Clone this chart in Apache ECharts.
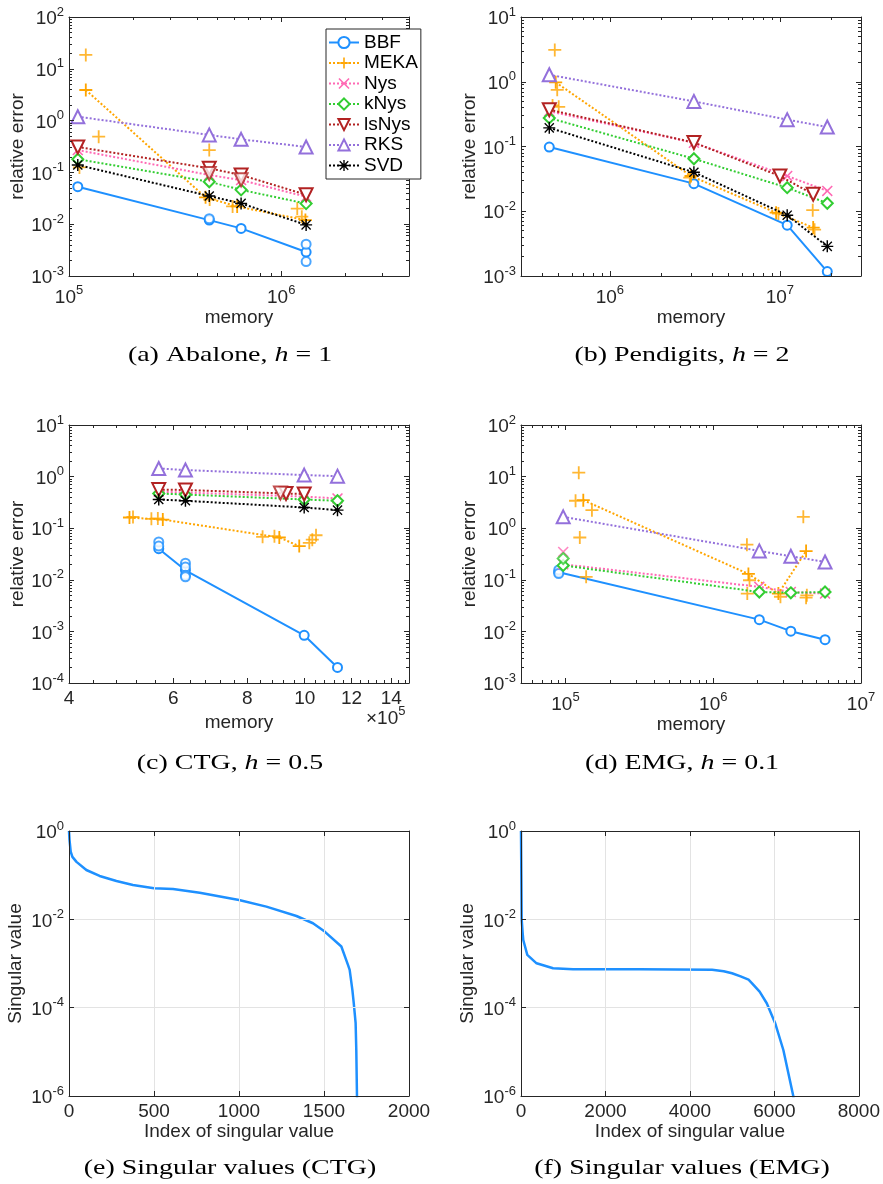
<!DOCTYPE html>
<html><head><meta charset="utf-8">
<script src="https://cdn.jsdelivr.net/npm/echarts@6/dist/echarts.min.js"></script>
<style>html,body{margin:0;padding:0;background:#fff}#c{width:883px;height:1184px}</style>
</head><body><div id="c"></div>
<script>
// ================= DATA =================
// (a) Abalone, h = 1   [memory, relative error]
const abaloneBBF = [[1.10e5,0.053],[4.58e5,0.012],[6.47e5,0.0083],[1.31e6,0.0029]];
const abaloneBBFExtra = [[4.58e5,0.0128],[1.31e6,0.0041],[1.31e6,0.0019]];
const abaloneMEKA = [[1.20e5,3.9],[4.4e5,0.033],[6.2e5,0.022],[1.30e6,0.012]];
const abaloneMEKAExtra = [[1.20e5,18.5],[1.38e5,0.49],[1.12e5,0.125],[4.58e5,0.27],[4.6e5,0.03],[5.9e5,0.022],[1.19e6,0.020],[1.25e6,0.014]];
const abaloneNys = [[1.10e5,0.27],[4.58e5,0.089],[6.47e5,0.071],[1.31e6,0.034]];
const abaloneKNys = [[1.10e5,0.18],[4.58e5,0.066],[6.47e5,0.046],[1.31e6,0.025]];
const abaloneLsNys = [[1.10e5,0.31],[4.58e5,0.12],[6.47e5,0.089],[1.31e6,0.037]];
const abaloneLsNysExtra = [[4.58e5,0.095],[6.47e5,0.072]];
const abaloneRKS = [[1.10e5,1.19],[4.58e5,0.53],[6.47e5,0.435],[1.31e6,0.31]];
const abaloneSVD = [[1.10e5,0.139],[4.58e5,0.035],[6.47e5,0.0252],[1.31e6,0.0097]];

// (b) Pendigits, h = 2
const pendBBF = [[4.4e5,0.098],[3.12e6,0.0267],[1.104e7,0.0061],[1.9e7,0.00117]];
const pendMEKA = [[4.8e5,0.98],[3.0e6,0.035],[9.5e6,0.0095],[1.57e7,0.0056]];
const pendMEKAExtra = [[4.74e5,3.1],[4.9e5,0.75],[5.0e5,0.41],[4.6e5,0.43],[1.56e7,0.0104],[1.6e7,0.0052],[2.95e6,0.033],[9.8e6,0.0092]];
const pendNys = [[4.4e5,0.35],[3.12e6,0.114],[1.104e7,0.035],[1.9e7,0.0206]];
const pendKNys = [[4.4e5,0.276],[3.12e6,0.0646],[1.104e7,0.0231],[1.9e7,0.0133]];
const pendLsNys = [[4.4e5,0.37],[3.12e6,0.115],[1.0e7,0.035],[1.57e7,0.0183]];
const pendRKS = [[4.4e5,1.28],[3.12e6,0.497],[1.104e7,0.26],[1.9e7,0.2]];
const pendSVD = [[4.4e5,0.194],[3.12e6,0.040],[1.104e7,0.0087],[1.9e7,0.00287]];

// (c) CTG, h = 0.5
const ctgBBF = [[5.67e5,0.040],[6.29e5,0.0153],[9.98e5,8.4e-4],[1.136e6,2.0e-4]];
const ctgBBFExtra = [[5.67e5,0.054],[5.67e5,0.045],[6.29e5,0.021],[6.29e5,0.0178],[6.29e5,0.0122],[6.29e5,0.0114]];
const ctgMEKA = [[5.06e5,0.161],[5.76e5,0.147],[9.06e5,0.066],[9.79e5,0.045]];
const ctgMEKAExtra = [[5.13e5,0.165],[5.51e5,0.152],[5.65e5,0.154],[8.49e5,0.068],[8.89e5,0.07],[1.018e6,0.052],[1.045e6,0.073],[1.03e6,0.06]];
const ctgNys = [[5.67e5,0.51],[6.29e5,0.49],[9.98e5,0.41],[1.136e6,0.377]];
const ctgKNys = [[5.67e5,0.47],[6.29e5,0.45],[9.98e5,0.36],[1.136e6,0.34]];
const ctgLsNys = [[5.67e5,0.56],[6.29e5,0.55],[9.3e5,0.47],[9.98e5,0.46]];
const ctgLsNysExtra = [[9.1e5,0.48]];
const ctgRKS = [[5.67e5,1.44],[6.29e5,1.34],[9.98e5,1.07],[1.136e6,1.02]];
const ctgSVD = [[5.67e5,0.36],[6.29e5,0.34],[9.98e5,0.252],[1.136e6,0.224]];
const ctgXTicks = [4, 6, 8, 10, 12, 14];   // x 10^5

// (d) EMG, h = 0.1
const emgBBF = [[9.0e4,0.14],[2.05e6,0.0169],[3.35e6,0.0101],[5.71e6,0.0069]];
const emgBBFExtra = [[9.0e4,0.155],[9.0e4,0.132]];
const emgMEKA = [[1.32e5,3.5],[1.73e6,0.13],[2.76e6,0.054],[4.25e6,0.36]];
const emgMEKAExtra = [[1.23e5,11.9],[1.17e5,3.4],[1.51e5,2.24],[1.25e5,0.66],[1.38e5,0.114],[1.69e6,0.48],[1.76e6,0.098],[1.7e6,0.054],[2.85e6,0.047],[4.07e6,1.66],[4.3e6,0.05],[4.25e6,0.045]];
const emgNys = [[9.65e4,0.2],[2.05e6,0.073],[3.35e6,0.058],[5.71e6,0.054]];
const emgNysExtra = [[9.65e4,0.347]];
const emgKNys = [[9.65e4,0.19],[2.05e6,0.058],[3.35e6,0.056],[5.71e6,0.058]];
const emgKNysExtra = [[9.65e4,0.258]];
const emgRKS = [[9.65e4,1.66],[2.05e6,0.363],[3.35e6,0.286],[5.71e6,0.222]];

// (e) Singular values (CTG)
const ctgSvIndex = [0,3,10,20,44,102,180,279,376,500,612,769,1000,1161,1338,1435,1504,1602,1641,1651,1667,1675,1686,1690,1694,1697];
const ctgSvValue = [1,0.63,0.34,0.26,0.20,0.131,0.096,0.074,0.060,0.0505,0.0487,0.0402,0.0275,0.0194,0.0119,0.00816,0.00528,0.00242,9.3e-4,7.2e-4,2.5e-4,1.26e-4,4.5e-5,1.1e-5,1e-6,3e-7];
// (f) Singular values (EMG)
const emgSvIndex = [0,8,16,40,54,149,369,760,1231,2800,4525,4800,4996,5200,5388,5466,5650,5819,6016,6212,6447,6480];
const emgSvValue = [1,0.1,0.01,0.0048,0.0034,0.00157,0.00101,7.8e-4,7.4e-4,7.4e-4,7.2e-4,6.7e-4,6.0e-4,5.1e-4,4.3e-4,3.6e-4,2.3e-4,1.26e-4,4.5e-5,1.1e-5,1e-6,5e-7];

const methods = ['BBF','MEKA','Nys','kNys','lsNys','RKS','SVD'];
const captions = ['(a) Abalone, {i|h} = 1','(b) Pendigits, {i|h} = 2','(c) CTG, {i|h} = 0.5','(d) EMG, {i|h} = 0.1','(e) Singular values (CTG)','(f) Singular values (EMG)'];

// ================= STYLE / LAYOUT =================
const FONT = 'Liberation Sans';
const SERIF = 'Liberation Serif';
const FS = 19;
const AX = '#262626';
const PLUS = 'path://M4.3,0H5.7V4.3H10V5.7H5.7V10H4.3V5.7H0V4.3H4.3Z';
const CROSS = 'path://M1,0L5,4L9,0L10,1L6,5L10,9L9,10L5,6L1,10L0,9L4,5L0,1Z';
const STAR = 'path://M4.4,0H5.6V4.4H10V5.6H5.6V10H4.4V5.6H0V4.4H4.4Z M1.6,0.8L5,4.2L8.4,0.8L9.2,1.6L5.8,5L9.2,8.4L8.4,9.2L5,5.8L1.6,9.2L0.8,8.4L4.2,5L0.8,1.6Z';
const styles = {
  BBF:  {color:'#1E90FF', type:'solid',  symbol:'emptyCircle',  size:9},
  MEKA: {color:'#FFA500', type:'dotted', symbol:PLUS,  size:13},
  Nys:  {color:'#FF69B4', type:'dotted', symbol:CROSS, size:11},
  kNys: {color:'#32CD32', type:'dotted', symbol:'emptyDiamond', size:11},
  lsNys:{color:'#B22222', type:'dotted', symbol:'emptyTriangle', size:13, rotate:180},
  RKS:  {color:'#9370DB', type:'dotted', symbol:'emptyTriangle', size:13},
  SVD:  {color:'#000000', type:'dotted', symbol:STAR,  size:12}
};

const panelData = [
  {BBF:[abaloneBBF,abaloneBBFExtra], MEKA:[abaloneMEKA,abaloneMEKAExtra], Nys:[abaloneNys], kNys:[abaloneKNys], lsNys:[abaloneLsNys,abaloneLsNysExtra], RKS:[abaloneRKS], SVD:[abaloneSVD]},
  {BBF:[pendBBF], MEKA:[pendMEKA,pendMEKAExtra], Nys:[pendNys], kNys:[pendKNys], lsNys:[pendLsNys], RKS:[pendRKS], SVD:[pendSVD]},
  {BBF:[ctgBBF,ctgBBFExtra], MEKA:[ctgMEKA,ctgMEKAExtra], Nys:[ctgNys], kNys:[ctgKNys], lsNys:[ctgLsNys,ctgLsNysExtra], RKS:[ctgRKS], SVD:[ctgSVD]},
  {BBF:[emgBBF,emgBBFExtra], MEKA:[emgMEKA,emgMEKAExtra], Nys:[emgNys,emgNysExtra], kNys:[emgKNys,emgKNysExtra], RKS:[emgRKS]}
];

function logMinors(min, max) {
  const out = [];
  for (let e = Math.floor(Math.log10(min)); e <= Math.ceil(Math.log10(max)); e++)
    for (let k = 2; k <= 9; k++) { const v = k * Math.pow(10, e); if (v > min * 1.0001 && v < max * 0.9999) out.push(v); }
  return out;
}
function logMajors(min, max) {
  const out = [];
  for (let e = Math.ceil(Math.log10(min) - 1e-9); e <= Math.floor(Math.log10(max) + 1e-9); e++) out.push(Math.pow(10, e));
  return out;
}
const ctgXMinors = [];
for (let v = 4.4; v < 15; v += 0.4) { const r = Math.round(v * 10) / 10; if (Math.abs(r / 2 - Math.round(r / 2)) > 1e-6) ctgXMinors.push(r * 1e5); }

function logLabel(v) {
  const l = Math.log10(v), e = Math.round(l);
  if (Math.abs(l - e) > 1e-6) return '';
  return '{b|10}{s|' + e + '}';
}
const supRich = {
  b: {fontSize:FS, fontFamily:FONT, color:AX, lineHeight:19, verticalAlign:'bottom'},
  s: {fontSize:13, fontFamily:FONT, color:AX, padding:[0,0,10,0], verticalAlign:'top'}
};

const specs = [
  {grid:{left:69,top:17,width:340,height:259}, x:{type:'log',min:1e5,max:4e6}, y:{type:'log',min:1e-3,max:1e2}, xName:'memory', yName:'relative error', xGap:31, yGap:41},
  {grid:{left:521,top:17,width:340,height:259}, x:{type:'log',min:3e5,max:3e7}, y:{type:'log',min:1e-3,max:1e1}, xName:'memory', yName:'relative error', xGap:31, yGap:42},
  {grid:{left:69,top:425,width:340,height:258}, x:{type:'log',min:4e5,max:1.5e6,majors:ctgXTicks.map(v=>v*1e5),minors:ctgXMinors,fmt:v=>String(Math.round(v/1e5))}, y:{type:'log',min:1e-4,max:1e1}, xName:'memory', yName:'relative error', xGap:30, yGap:41},
  {grid:{left:521,top:425,width:340,height:258}, x:{type:'log',min:5e4,max:1e7}, y:{type:'log',min:1e-3,max:1e2}, xName:'memory', yName:'relative error', xGap:31, yGap:42},
  {grid:{left:69,top:831,width:340,height:265}, x:{type:'value',min:0,max:2000,interval:500,noMinor:true}, y:{type:'log',min:1e-6,max:1,interval:2,noMinor:true}, xName:'Index of singular value', yName:'Singular value', xGap:22, yGap:44, split:true},
  {grid:{left:521,top:831,width:340,height:265}, x:{type:'value',min:0,max:8000,interval:2000,noMinor:true}, y:{type:'log',min:1e-6,max:1,interval:2,noMinor:true}, xName:'Index of singular value', yName:'Singular value', xGap:22, yGap:44, split:true}
];

const grids = [], xAxes = [], yAxes = [], mainX = [], mainY = [];
function baseAxis(s, gi, position, showLine, tickLen, ticks) {
  const a = {type:s.type, gridIndex:gi, position, min:s.min, max:s.max, silent:true, z:6,
    axisLine:{show:showLine, onZero:false, lineStyle:{color:AX, width:1}},
    axisTick:{show:true, inside:true, length:tickLen, lineStyle:{color:AX, width:1}},
    axisLabel:{show:false}, splitLine:{show:false}};
  if (s.type === 'log') a.logBase = 10;
  if (s.interval) a.interval = s.interval;
  if (ticks) a.axisTick.customValues = ticks;
  return a;
}
specs.forEach((p, gi) => {
  grids.push(Object.assign({containLabel:false}, p.grid));
  ['x','y'].forEach(dim => {
    const s = p[dim];
    const arr = dim === 'x' ? xAxes : yAxes;
    const pos1 = dim === 'x' ? 'bottom' : 'left', pos2 = dim === 'x' ? 'top' : 'right';
    let majors = s.majors || (s.type === 'log' && !s.interval ? logMajors(s.min, s.max) : null);
    const main = baseAxis(s, gi, pos1, true, 5, majors);
    main.axisLabel = {show:true, margin: dim === 'x' ? (s.type === 'log' && !s.fmt ? 8 : 6) : 5, color:AX, fontSize:FS, fontFamily:FONT,
      formatter: s.fmt ? s.fmt : (s.type === 'log' ? logLabel : (v => String(v))), rich: supRich};
    if (majors) main.axisLabel.customValues = majors;
    main.name = dim === 'x' ? p.xName : p.yName;
    main.nameLocation = 'middle';
    main.nameGap = dim === 'x' ? p.xGap : p.yGap;
    main.nameTextStyle = {fontSize:FS, fontFamily:FONT, color:AX};
    if (p.split) main.splitLine = {show:true, lineStyle:{color:'#e3e3e3', width:1}};
    (dim === 'x' ? mainX : mainY).push(arr.length);
    arr.push(main);
    arr.push(baseAxis(s, gi, pos2, true, 5, majors));
    if (!s.noMinor) {
      const minors = s.minors || logMinors(s.min, s.max);
      arr.push(baseAxis(s, gi, pos1, false, 3, minors));
      arr.push(baseAxis(s, gi, pos2, false, 3, minors));
    }
  });
});

const series = [];
function addSeries(kind, name, data, gi) {
  const st = styles[name];
  const s = {
    type: kind, name, data, xAxisIndex: mainX[gi], yAxisIndex: mainY[gi],
    symbol: st.symbol, symbolSize: st.size, symbolRotate: st.rotate || 0,
    itemStyle: {color: st.color, borderColor: st.color, borderWidth: 2},
    z: 3 + methods.indexOf(name) * 0.1, clip: true, silent: true
  };
  if (kind === 'line') {
    s.lineStyle = {color: st.color, width: 2, type: st.type};
    s.showSymbol = true; s.showAllSymbol = true;
  }
  if (st.symbol.indexOf('path://') === 0) s.itemStyle.borderWidth = 0;
  series.push(s);
}
panelData.forEach((pd, gi) => methods.forEach(m => { if (pd[m]) addSeries('line', m, pd[m][0], gi); }));
panelData.forEach((pd, gi) => methods.forEach(m => { if (pd[m] && pd[m][1]) addSeries('scatter', m, pd[m][1], gi); }));
[[ctgSvIndex, ctgSvValue, 4], [emgSvIndex, emgSvValue, 5]].forEach(([ix, sv, gi]) => {
  series.push({type:'line', name:'sv' + gi, data: ix.map((x, i) => [x, sv[i]]), xAxisIndex: mainX[gi], yAxisIndex: mainY[gi],
    showSymbol:false, clip:true, silent:true, lineStyle:{color:'#1E90FF', width:2.5, join:'round'}, itemStyle:{color:'#1E90FF'}});
});

const capPos = [[230,355],[682,355],[230,763],[682,763],[230,1168],[682,1168]];
const graphic = captions.map((t, i) => ({
  type:'text', x: capPos[i][0], y: capPos[i][1], scaleX: 1.33, silent:true,
  style:{text:t, fontSize:21, fontFamily:SERIF, fill:'#000', align:'center', verticalAlign:'middle', textAlign:'center', textVerticalAlign:'middle',
    rich:{i:{fontSize:21, fontFamily:SERIF, fontStyle:'italic', fill:'#000'}}}
}));
graphic.push({type:'text', x:366, y:705, silent:true,
  style:{text:'{b|×10}{s|5}', align:'left', verticalAlign:'top', textAlign:'left', textVerticalAlign:'top',
    rich:{b:{fontSize:FS, fontFamily:FONT, fill:AX, lineHeight:19, verticalAlign:'bottom'}, s:{fontSize:13, fontFamily:FONT, fill:AX, padding:[0,0,10,0], verticalAlign:'top'}}}});

const chart = echarts.init(document.getElementById('c'), null, {renderer:'canvas'});
chart.setOption({
  animation:false, backgroundColor:'#fff',
  grid: grids, xAxis: xAxes, yAxis: yAxes, series, graphic,
  legend: {data: methods, left:326, top:29, orient:'vertical', backgroundColor:'#fff', borderColor:AX, borderWidth:1,
    padding:[4,3,4,2], itemGap:1.5, itemWidth:30, itemHeight:14, selectedMode:false, z:10,
    textStyle:{fontSize:FS, fontFamily:FONT, color:'#000', lineHeight:18}}
});
</script></body></html>
